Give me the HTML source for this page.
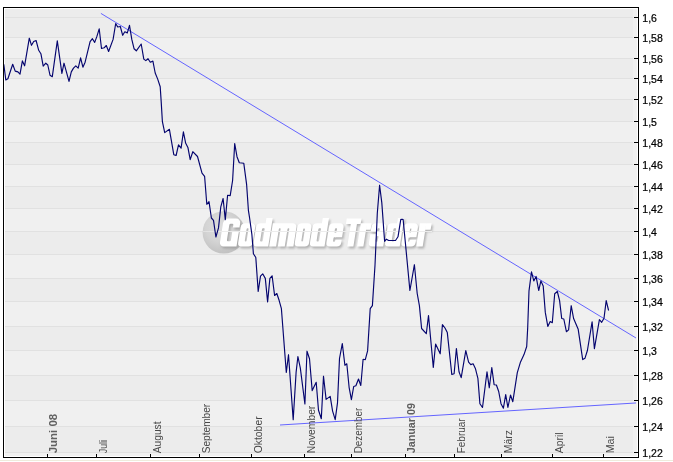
<!DOCTYPE html>
<html><head><meta charset="utf-8"><title>Chart</title>
<style>
html,body{margin:0;padding:0;background:#fff;}
body{width:673px;height:462px;overflow:hidden;position:relative;font-family:"Liberation Sans",sans-serif;}
svg{position:absolute;left:0;top:0;}
text{font-family:"Liberation Sans",sans-serif;}
</style></head><body>
<svg width="673" height="462" viewBox="0 0 673 462">
<defs>
<radialGradient id="ball" cx="0.42" cy="0.38" r="0.62"><stop offset="0" stop-color="#dedede"/><stop offset="0.55" stop-color="#d4d4d4"/><stop offset="1" stop-color="#c2c2c2"/></radialGradient>
<filter id="sh" x="-5%" y="-20%" width="110%" height="150%"><feGaussianBlur stdDeviation="1.1"/></filter>
<clipPath id="plot"><rect x="4" y="9" width="632" height="447"/></clipPath>
</defs>
<rect x="0" y="460" width="673" height="1" fill="#efebdc"/>
<rect x="3" y="7" width="636" height="451" fill="#000"/>
<rect x="4" y="8" width="634" height="449" fill="#fff"/>
<rect x="5" y="9" width="632" height="447" fill="#f0f0f0"/>
<rect x="5" y="9" width="628" height="8" fill="#ececec"/>
<rect x="5" y="18" width="628" height="19" fill="#ececec"/>
<rect x="5" y="59" width="628" height="19" fill="#ececec"/>
<rect x="5" y="100" width="628" height="21" fill="#ececec"/>
<rect x="5" y="143" width="628" height="21" fill="#ececec"/>
<rect x="5" y="187" width="628" height="21" fill="#ececec"/>
<rect x="5" y="232" width="628" height="22" fill="#ececec"/>
<rect x="5" y="279" width="628" height="22" fill="#ececec"/>
<rect x="5" y="327" width="628" height="23" fill="#ececec"/>
<rect x="5" y="376" width="628" height="24" fill="#ececec"/>
<rect x="5" y="427" width="628" height="25" fill="#ececec"/>
<rect x="5" y="17" width="628" height="1" fill="#e1e1e1"/>
<rect x="5" y="37" width="628" height="1" fill="#e1e1e1"/>
<rect x="5" y="58" width="628" height="1" fill="#e1e1e1"/>
<rect x="5" y="78" width="628" height="1" fill="#e1e1e1"/>
<rect x="5" y="99" width="628" height="1" fill="#e1e1e1"/>
<rect x="5" y="121" width="628" height="1" fill="#e1e1e1"/>
<rect x="5" y="142" width="628" height="1" fill="#e1e1e1"/>
<rect x="5" y="164" width="628" height="1" fill="#e1e1e1"/>
<rect x="5" y="186" width="628" height="1" fill="#e1e1e1"/>
<rect x="5" y="208" width="628" height="1" fill="#e1e1e1"/>
<rect x="5" y="231" width="628" height="1" fill="#e1e1e1"/>
<rect x="5" y="254" width="628" height="1" fill="#e1e1e1"/>
<rect x="5" y="278" width="628" height="1" fill="#e1e1e1"/>
<rect x="5" y="301" width="628" height="1" fill="#e1e1e1"/>
<rect x="5" y="326" width="628" height="1" fill="#e1e1e1"/>
<rect x="5" y="350" width="628" height="1" fill="#e1e1e1"/>
<rect x="5" y="375" width="628" height="1" fill="#e1e1e1"/>
<rect x="5" y="400" width="628" height="1" fill="#e1e1e1"/>
<rect x="5" y="426" width="628" height="1" fill="#e1e1e1"/>
<rect x="5" y="452" width="628" height="1" fill="#e1e1e1"/>
<g id="wm">
<circle cx="223.8" cy="232.4" r="21.2" fill="url(#ball)"/>
<rect x="203" y="231" width="42" height="1" fill="#ffffff" opacity="0.35"/>
<g fill="#8c8c8c" fill-rule="evenodd" opacity="0.62" filter="url(#sh)" transform="translate(1.4,2.0)"><path transform="translate(219.3,246.5) skewX(-9.0)" d="M4.80,-28.00 L12.40,-28.00 A4.8,4.8 0 0 1 17.20,-23.20 L17.20,0.00 L4.20,0.00 A4.2,4.2 0 0 1 0.00,-4.20 L0.00,-23.20 A4.8,4.8 0 0 1 4.80,-28.00 Z M7.80,-22.70 L9.40,-22.70 A1.2,1.2 0 0 1 10.60,-21.50 L10.60,-6.50 A1.2,1.2 0 0 1 9.40,-5.30 L7.80,-5.30 A1.2,1.2 0 0 1 6.60,-6.50 L6.60,-21.50 A1.2,1.2 0 0 1 7.80,-22.70 Z M10.60,-19.00 L17.20,-19.00 L17.20,-15.40 L10.60,-15.40 L10.60,-19.00 Z"/><path transform="translate(237.6,246.5) skewX(-9.0)" d="M4.20,-23.30 L10.30,-23.30 A4.2,4.2 0 0 1 14.50,-19.10 L14.50,-3.80 A3.8,3.8 0 0 1 10.70,0.00 L3.80,0.00 A3.8,3.8 0 0 1 0.00,-3.80 L0.00,-19.10 A4.2,4.2 0 0 1 4.20,-23.30 Z M7.20,-18.30 L7.30,-18.30 A0.9,0.9 0 0 1 8.20,-17.40 L8.20,-5.90 A0.9,0.9 0 0 1 7.30,-5.00 L7.20,-5.00 A0.9,0.9 0 0 1 6.30,-5.90 L6.30,-17.40 A0.9,0.9 0 0 1 7.20,-18.30 Z"/><path transform="translate(253.0,246.5) skewX(-9.0)" d="M4.20,-23.30 L15.20,-23.30 L15.20,0.00 L3.80,0.00 A3.8,3.8 0 0 1 0.00,-3.80 L0.00,-19.10 A4.2,4.2 0 0 1 4.20,-23.30 Z M7.20,-18.30 L8.00,-18.30 A0.9,0.9 0 0 1 8.90,-17.40 L8.90,-5.90 A0.9,0.9 0 0 1 8.00,-5.00 L7.20,-5.00 A0.9,0.9 0 0 1 6.30,-5.90 L6.30,-17.40 A0.9,0.9 0 0 1 7.20,-18.30 Z M8.90,-28.60 L15.20,-28.60 L15.20,-23.29 L8.90,-23.29 L8.90,-28.60 Z"/><path transform="translate(269.2,246.5) skewX(-9.0)" d="M0.00,-23.30 L20.00,-23.30 A4.2,4.2 0 0 1 24.20,-19.10 L24.20,0.00 L0.00,0.00 L0.00,-23.30 Z M7.70,-18.30 L7.85,-18.30 A0.8,0.8 0 0 1 8.65,-17.50 L8.65,0.00 L6.90,0.00 L6.90,-17.50 A0.8,0.8 0 0 1 7.70,-18.30 Z M16.35,-18.30 L16.50,-18.30 A0.8,0.8 0 0 1 17.30,-17.50 L17.30,0.00 L15.55,0.00 L15.55,-17.50 A0.8,0.8 0 0 1 16.35,-18.30 Z"/><path transform="translate(294.2,246.5) skewX(-9.0)" d="M4.20,-23.30 L10.10,-23.30 A4.2,4.2 0 0 1 14.30,-19.10 L14.30,-3.80 A3.8,3.8 0 0 1 10.50,0.00 L3.80,0.00 A3.8,3.8 0 0 1 0.00,-3.80 L0.00,-19.10 A4.2,4.2 0 0 1 4.20,-23.30 Z M7.20,-18.30 L7.10,-18.30 A0.9,0.9 0 0 1 8.00,-17.40 L8.00,-5.90 A0.9,0.9 0 0 1 7.10,-5.00 L7.20,-5.00 A0.9,0.9 0 0 1 6.30,-5.90 L6.30,-17.40 A0.9,0.9 0 0 1 7.20,-18.30 Z"/><path transform="translate(309.4,246.5) skewX(-9.0)" d="M4.20,-23.30 L15.10,-23.30 L15.10,0.00 L3.80,0.00 A3.8,3.8 0 0 1 0.00,-3.80 L0.00,-19.10 A4.2,4.2 0 0 1 4.20,-23.30 Z M7.20,-18.30 L7.90,-18.30 A0.9,0.9 0 0 1 8.80,-17.40 L8.80,-5.90 A0.9,0.9 0 0 1 7.90,-5.00 L7.20,-5.00 A0.9,0.9 0 0 1 6.30,-5.90 L6.30,-17.40 A0.9,0.9 0 0 1 7.20,-18.30 Z M8.80,-28.60 L15.10,-28.60 L15.10,-23.29 L8.80,-23.29 L8.80,-28.60 Z"/><path transform="translate(325.9,246.5) skewX(-9.0)" d="M4.20,-23.30 L10.50,-23.30 A4.2,4.2 0 0 1 14.70,-19.10 L14.70,-3.80 A3.8,3.8 0 0 1 10.90,0.00 L3.80,0.00 A3.8,3.8 0 0 1 0.00,-3.80 L0.00,-19.10 A4.2,4.2 0 0 1 4.20,-23.30 Z M7.10,-18.30 L7.60,-18.30 A0.8,0.8 0 0 1 8.40,-17.50 L8.40,-14.50 A0.8,0.8 0 0 1 7.60,-13.70 L7.10,-13.70 A0.8,0.8 0 0 1 6.30,-14.50 L6.30,-17.50 A0.8,0.8 0 0 1 7.10,-18.30 Z M7.10,-9.20 L7.60,-9.20 A0.8,0.8 0 0 1 8.40,-8.40 L8.40,-5.60 A0.8,0.8 0 0 1 7.60,-4.80 L7.10,-4.80 A0.8,0.8 0 0 1 6.30,-5.60 L6.30,-8.40 A0.8,0.8 0 0 1 7.10,-9.20 Z M8.40,-9.20 L14.70,-9.20 L14.70,-6.80 L8.40,-6.80 L8.40,-9.20 Z"/><path transform="translate(342.3,246.5) skewX(-9.0)" d="M0.00,-28.00 L14.80,-28.00 L14.80,-22.40 L0.00,-22.40 L0.00,-28.00 Z M4.90,-22.41 L11.10,-22.41 L11.10,0.00 L4.90,0.00 L4.90,-22.41 Z"/><path transform="translate(357.1,246.5) skewX(-9.0)" d="M0.00,-23.30 L6.30,-23.30 L6.30,0.00 L0.00,0.00 L0.00,-23.30 Z M6.29,-23.30 L10.89,-23.30 L10.89,-16.70 L6.29,-16.70 L6.29,-23.30 Z"/><path transform="translate(368.3,246.5) skewX(-9.0)" d="M4.20,-23.30 L10.70,-23.30 A4.2,4.2 0 0 1 14.90,-19.10 L14.90,0.00 L3.80,0.00 A3.8,3.8 0 0 1 0.00,-3.80 L0.00,-19.10 A4.2,4.2 0 0 1 4.20,-23.30 Z M7.10,-18.30 L7.80,-18.30 A0.8,0.8 0 0 1 8.60,-17.50 L8.60,-15.50 A0.8,0.8 0 0 1 7.80,-14.70 L7.10,-14.70 A0.8,0.8 0 0 1 6.30,-15.50 L6.30,-17.50 A0.8,0.8 0 0 1 7.10,-18.30 Z M7.10,-10.60 L7.80,-10.60 A0.8,0.8 0 0 1 8.60,-9.80 L8.60,-5.60 A0.8,0.8 0 0 1 7.80,-4.80 L7.10,-4.80 A0.8,0.8 0 0 1 6.30,-5.60 L6.30,-9.80 A0.8,0.8 0 0 1 7.10,-10.60 Z M0.00,-14.40 L6.30,-14.40 L6.30,-12.20 L0.00,-12.20 L0.00,-14.40 Z"/><path transform="translate(384.5,246.5) skewX(-9.0)" d="M4.20,-23.30 L15.20,-23.30 L15.20,0.00 L3.80,0.00 A3.8,3.8 0 0 1 0.00,-3.80 L0.00,-19.10 A4.2,4.2 0 0 1 4.20,-23.30 Z M7.20,-18.30 L8.00,-18.30 A0.9,0.9 0 0 1 8.90,-17.40 L8.90,-5.90 A0.9,0.9 0 0 1 8.00,-5.00 L7.20,-5.00 A0.9,0.9 0 0 1 6.30,-5.90 L6.30,-17.40 A0.9,0.9 0 0 1 7.20,-18.30 Z M8.90,-28.60 L15.20,-28.60 L15.20,-23.29 L8.90,-23.29 L8.90,-28.60 Z"/><path transform="translate(401.0,246.5) skewX(-9.0)" d="M4.20,-23.30 L9.70,-23.30 A4.2,4.2 0 0 1 13.90,-19.10 L13.90,-3.80 A3.8,3.8 0 0 1 10.10,0.00 L3.80,0.00 A3.8,3.8 0 0 1 0.00,-3.80 L0.00,-19.10 A4.2,4.2 0 0 1 4.20,-23.30 Z M7.10,-18.30 L6.80,-18.30 A0.8,0.8 0 0 1 7.60,-17.50 L7.60,-14.50 A0.8,0.8 0 0 1 6.80,-13.70 L7.10,-13.70 A0.8,0.8 0 0 1 6.30,-14.50 L6.30,-17.50 A0.8,0.8 0 0 1 7.10,-18.30 Z M7.10,-9.20 L6.80,-9.20 A0.8,0.8 0 0 1 7.60,-8.40 L7.60,-5.60 A0.8,0.8 0 0 1 6.80,-4.80 L7.10,-4.80 A0.8,0.8 0 0 1 6.30,-5.60 L6.30,-8.40 A0.8,0.8 0 0 1 7.10,-9.20 Z M7.60,-9.20 L13.90,-9.20 L13.90,-6.80 L7.60,-6.80 L7.60,-9.20 Z"/><path transform="translate(416.2,246.5) skewX(-9.0)" d="M0.00,-23.30 L6.50,-23.30 L6.50,0.00 L0.00,0.00 L0.00,-23.30 Z M6.49,-23.30 L11.79,-23.30 L11.79,-16.70 L6.49,-16.70 L6.49,-23.30 Z"/></g>
<g fill="#ffffff" fill-rule="evenodd"><path transform="translate(219.3,246.5) skewX(-9.0)" d="M4.80,-28.00 L12.40,-28.00 A4.8,4.8 0 0 1 17.20,-23.20 L17.20,0.00 L4.20,0.00 A4.2,4.2 0 0 1 0.00,-4.20 L0.00,-23.20 A4.8,4.8 0 0 1 4.80,-28.00 Z M7.80,-22.70 L9.40,-22.70 A1.2,1.2 0 0 1 10.60,-21.50 L10.60,-6.50 A1.2,1.2 0 0 1 9.40,-5.30 L7.80,-5.30 A1.2,1.2 0 0 1 6.60,-6.50 L6.60,-21.50 A1.2,1.2 0 0 1 7.80,-22.70 Z M10.60,-19.00 L17.20,-19.00 L17.20,-15.40 L10.60,-15.40 L10.60,-19.00 Z"/><path transform="translate(237.6,246.5) skewX(-9.0)" d="M4.20,-23.30 L10.30,-23.30 A4.2,4.2 0 0 1 14.50,-19.10 L14.50,-3.80 A3.8,3.8 0 0 1 10.70,0.00 L3.80,0.00 A3.8,3.8 0 0 1 0.00,-3.80 L0.00,-19.10 A4.2,4.2 0 0 1 4.20,-23.30 Z M7.20,-18.30 L7.30,-18.30 A0.9,0.9 0 0 1 8.20,-17.40 L8.20,-5.90 A0.9,0.9 0 0 1 7.30,-5.00 L7.20,-5.00 A0.9,0.9 0 0 1 6.30,-5.90 L6.30,-17.40 A0.9,0.9 0 0 1 7.20,-18.30 Z"/><path transform="translate(253.0,246.5) skewX(-9.0)" d="M4.20,-23.30 L15.20,-23.30 L15.20,0.00 L3.80,0.00 A3.8,3.8 0 0 1 0.00,-3.80 L0.00,-19.10 A4.2,4.2 0 0 1 4.20,-23.30 Z M7.20,-18.30 L8.00,-18.30 A0.9,0.9 0 0 1 8.90,-17.40 L8.90,-5.90 A0.9,0.9 0 0 1 8.00,-5.00 L7.20,-5.00 A0.9,0.9 0 0 1 6.30,-5.90 L6.30,-17.40 A0.9,0.9 0 0 1 7.20,-18.30 Z M8.90,-28.60 L15.20,-28.60 L15.20,-23.29 L8.90,-23.29 L8.90,-28.60 Z"/><path transform="translate(269.2,246.5) skewX(-9.0)" d="M0.00,-23.30 L20.00,-23.30 A4.2,4.2 0 0 1 24.20,-19.10 L24.20,0.00 L0.00,0.00 L0.00,-23.30 Z M7.70,-18.30 L7.85,-18.30 A0.8,0.8 0 0 1 8.65,-17.50 L8.65,0.00 L6.90,0.00 L6.90,-17.50 A0.8,0.8 0 0 1 7.70,-18.30 Z M16.35,-18.30 L16.50,-18.30 A0.8,0.8 0 0 1 17.30,-17.50 L17.30,0.00 L15.55,0.00 L15.55,-17.50 A0.8,0.8 0 0 1 16.35,-18.30 Z"/><path transform="translate(294.2,246.5) skewX(-9.0)" d="M4.20,-23.30 L10.10,-23.30 A4.2,4.2 0 0 1 14.30,-19.10 L14.30,-3.80 A3.8,3.8 0 0 1 10.50,0.00 L3.80,0.00 A3.8,3.8 0 0 1 0.00,-3.80 L0.00,-19.10 A4.2,4.2 0 0 1 4.20,-23.30 Z M7.20,-18.30 L7.10,-18.30 A0.9,0.9 0 0 1 8.00,-17.40 L8.00,-5.90 A0.9,0.9 0 0 1 7.10,-5.00 L7.20,-5.00 A0.9,0.9 0 0 1 6.30,-5.90 L6.30,-17.40 A0.9,0.9 0 0 1 7.20,-18.30 Z"/><path transform="translate(309.4,246.5) skewX(-9.0)" d="M4.20,-23.30 L15.10,-23.30 L15.10,0.00 L3.80,0.00 A3.8,3.8 0 0 1 0.00,-3.80 L0.00,-19.10 A4.2,4.2 0 0 1 4.20,-23.30 Z M7.20,-18.30 L7.90,-18.30 A0.9,0.9 0 0 1 8.80,-17.40 L8.80,-5.90 A0.9,0.9 0 0 1 7.90,-5.00 L7.20,-5.00 A0.9,0.9 0 0 1 6.30,-5.90 L6.30,-17.40 A0.9,0.9 0 0 1 7.20,-18.30 Z M8.80,-28.60 L15.10,-28.60 L15.10,-23.29 L8.80,-23.29 L8.80,-28.60 Z"/><path transform="translate(325.9,246.5) skewX(-9.0)" d="M4.20,-23.30 L10.50,-23.30 A4.2,4.2 0 0 1 14.70,-19.10 L14.70,-3.80 A3.8,3.8 0 0 1 10.90,0.00 L3.80,0.00 A3.8,3.8 0 0 1 0.00,-3.80 L0.00,-19.10 A4.2,4.2 0 0 1 4.20,-23.30 Z M7.10,-18.30 L7.60,-18.30 A0.8,0.8 0 0 1 8.40,-17.50 L8.40,-14.50 A0.8,0.8 0 0 1 7.60,-13.70 L7.10,-13.70 A0.8,0.8 0 0 1 6.30,-14.50 L6.30,-17.50 A0.8,0.8 0 0 1 7.10,-18.30 Z M7.10,-9.20 L7.60,-9.20 A0.8,0.8 0 0 1 8.40,-8.40 L8.40,-5.60 A0.8,0.8 0 0 1 7.60,-4.80 L7.10,-4.80 A0.8,0.8 0 0 1 6.30,-5.60 L6.30,-8.40 A0.8,0.8 0 0 1 7.10,-9.20 Z M8.40,-9.20 L14.70,-9.20 L14.70,-6.80 L8.40,-6.80 L8.40,-9.20 Z"/><path transform="translate(342.3,246.5) skewX(-9.0)" d="M0.00,-28.00 L14.80,-28.00 L14.80,-22.40 L0.00,-22.40 L0.00,-28.00 Z M4.90,-22.41 L11.10,-22.41 L11.10,0.00 L4.90,0.00 L4.90,-22.41 Z"/><path transform="translate(357.1,246.5) skewX(-9.0)" d="M0.00,-23.30 L6.30,-23.30 L6.30,0.00 L0.00,0.00 L0.00,-23.30 Z M6.29,-23.30 L10.89,-23.30 L10.89,-16.70 L6.29,-16.70 L6.29,-23.30 Z"/><path transform="translate(368.3,246.5) skewX(-9.0)" d="M4.20,-23.30 L10.70,-23.30 A4.2,4.2 0 0 1 14.90,-19.10 L14.90,0.00 L3.80,0.00 A3.8,3.8 0 0 1 0.00,-3.80 L0.00,-19.10 A4.2,4.2 0 0 1 4.20,-23.30 Z M7.10,-18.30 L7.80,-18.30 A0.8,0.8 0 0 1 8.60,-17.50 L8.60,-15.50 A0.8,0.8 0 0 1 7.80,-14.70 L7.10,-14.70 A0.8,0.8 0 0 1 6.30,-15.50 L6.30,-17.50 A0.8,0.8 0 0 1 7.10,-18.30 Z M7.10,-10.60 L7.80,-10.60 A0.8,0.8 0 0 1 8.60,-9.80 L8.60,-5.60 A0.8,0.8 0 0 1 7.80,-4.80 L7.10,-4.80 A0.8,0.8 0 0 1 6.30,-5.60 L6.30,-9.80 A0.8,0.8 0 0 1 7.10,-10.60 Z M0.00,-14.40 L6.30,-14.40 L6.30,-12.20 L0.00,-12.20 L0.00,-14.40 Z"/><path transform="translate(384.5,246.5) skewX(-9.0)" d="M4.20,-23.30 L15.20,-23.30 L15.20,0.00 L3.80,0.00 A3.8,3.8 0 0 1 0.00,-3.80 L0.00,-19.10 A4.2,4.2 0 0 1 4.20,-23.30 Z M7.20,-18.30 L8.00,-18.30 A0.9,0.9 0 0 1 8.90,-17.40 L8.90,-5.90 A0.9,0.9 0 0 1 8.00,-5.00 L7.20,-5.00 A0.9,0.9 0 0 1 6.30,-5.90 L6.30,-17.40 A0.9,0.9 0 0 1 7.20,-18.30 Z M8.90,-28.60 L15.20,-28.60 L15.20,-23.29 L8.90,-23.29 L8.90,-28.60 Z"/><path transform="translate(401.0,246.5) skewX(-9.0)" d="M4.20,-23.30 L9.70,-23.30 A4.2,4.2 0 0 1 13.90,-19.10 L13.90,-3.80 A3.8,3.8 0 0 1 10.10,0.00 L3.80,0.00 A3.8,3.8 0 0 1 0.00,-3.80 L0.00,-19.10 A4.2,4.2 0 0 1 4.20,-23.30 Z M7.10,-18.30 L6.80,-18.30 A0.8,0.8 0 0 1 7.60,-17.50 L7.60,-14.50 A0.8,0.8 0 0 1 6.80,-13.70 L7.10,-13.70 A0.8,0.8 0 0 1 6.30,-14.50 L6.30,-17.50 A0.8,0.8 0 0 1 7.10,-18.30 Z M7.10,-9.20 L6.80,-9.20 A0.8,0.8 0 0 1 7.60,-8.40 L7.60,-5.60 A0.8,0.8 0 0 1 6.80,-4.80 L7.10,-4.80 A0.8,0.8 0 0 1 6.30,-5.60 L6.30,-8.40 A0.8,0.8 0 0 1 7.10,-9.20 Z M7.60,-9.20 L13.90,-9.20 L13.90,-6.80 L7.60,-6.80 L7.60,-9.20 Z"/><path transform="translate(416.2,246.5) skewX(-9.0)" d="M0.00,-23.30 L6.50,-23.30 L6.50,0.00 L0.00,0.00 L0.00,-23.30 Z M6.49,-23.30 L11.79,-23.30 L11.79,-16.70 L6.49,-16.70 L6.49,-23.30 Z"/></g>
<rect x="219" y="231" width="213" height="1" fill="#ececec"/>
</g>
<g clip-path="url(#plot)">
<line x1="100.9" y1="13.4" x2="637" y2="338.6" stroke="#6464ff" stroke-width="1"/>
<line x1="280" y1="425.0" x2="637" y2="402.9" stroke="#6464ff" stroke-width="1"/>
<polyline points="3.8,64.3 5.8,79.9 7.9,78.7 12.7,64.3 15.2,71.1 17.9,71.9 20.0,74.1 22.4,60.9 24.6,65.8 29.3,38.2 31.5,45.3 33.7,41.5 36.1,40.5 38.7,50.3 40.9,53.7 43.2,66.2 45.8,63.2 47.8,65.0 50.0,75.2 52.3,76.7 57.3,40.8 61.9,73.4 64.0,63.2 69.0,81.4 71.3,71.9 73.5,68.1 75.8,65.8 78.2,68.1 80.6,57.8 82.9,67.2 85.1,62.2 90.1,41.7 92.4,38.7 94.7,42.4 96.9,36.4 99.2,28.8 101.5,48.5 104.1,47.8 106.3,45.5 108.6,51.5 113.1,39.4 115.7,23.5 117.7,27.0 120.3,26.5 122.7,35.3 124.8,31.8 127.3,32.9 129.5,25.3 131.8,39.4 134.1,48.8 136.3,50.8 141.2,44.0 143.8,59.1 145.8,60.6 148.0,58.7 150.3,62.2 152.9,61.1 155.2,73.0 157.7,79.1 160.2,86.7 161.2,101.9 162.4,121.7 164.7,132.6 169.4,129.3 173.8,154.7 176.1,155.5 178.5,144.9 181.1,148.2 183.4,131.8 185.6,142.9 187.9,147.4 190.2,159.6 192.8,151.7 197.5,156.5 202.0,173.2 204.6,176.3 206.8,204.3 209.0,201.7 211.4,218.0 213.5,220.3 215.9,237.0 218.5,227.9 220.8,206.8 223.1,198.5 225.3,219.6 227.6,195.3 230.2,195.6 232.6,180.5 234.7,143.6 237.0,156.7 239.3,162.7 243.8,163.3 246.6,184.3 248.4,210.3 249.6,218.0 251.9,234.7 253.4,253.7 255.8,257.5 258.2,291.5 260.5,276.1 262.7,273.8 265.3,278.4 267.6,301.9 269.9,278.4 272.1,275.8 274.6,295.5 276.8,293.5 279.1,300.3 281.4,308.7 286.3,372.5 288.5,354.7 293.2,419.7 296.1,372.4 297.9,356.5 300.3,367.9 304.9,404.0 307.0,351.2 309.5,358.8 312.2,390.6 316.2,382.3 318.5,410.3 321.3,418.7 323.5,376.2 326.1,399.4 330.2,396.4 332.6,411.1 335.2,419.7 337.5,402.8 339.5,358.5 342.3,343.6 344.9,365.3 346.8,363.8 349.1,387.3 351.4,399.7 353.7,386.5 355.9,385.8 358.5,379.0 360.8,385.5 363.1,359.3 365.3,359.7 367.6,350.9 370.2,308.7 372.4,305.6 375.0,265.3 377.3,213.2 379.6,185.2 381.8,202.6 384.6,241.3 386.4,239.2 388.7,240.5 395.5,240.5 398.0,236.8 400.8,219.3 403.1,219.3 405.3,242.0 409.9,290.5 414.4,264.7 417.2,293.5 419.4,305.6 421.6,328.5 426.3,333.7 428.5,315.5 433.3,367.5 435.6,344.0 440.2,353.8 442.4,324.7 445.0,328.0 447.3,332.6 451.8,374.5 454.1,373.7 456.4,348.5 459.0,371.8 461.2,377.6 465.8,350.6 468.6,362.1 470.8,364.6 473.1,363.8 475.5,368.8 477.9,378.4 479.9,403.7 482.5,407.5 487.0,371.8 489.3,387.8 491.8,367.5 494.1,384.7 496.4,385.0 498.7,391.5 501.0,403.7 503.4,408.2 505.7,394.6 507.9,407.5 510.5,395.0 512.8,401.7 517.3,372.6 520.3,362.6 524.0,354.6 526.7,346.5 527.7,327.6 529.0,290.8 531.5,271.8 533.8,280.9 536.1,276.4 538.7,290.5 540.9,280.9 543.2,285.9 545.3,312.4 547.8,326.4 550.2,321.5 552.3,322.7 554.7,293.8 557.3,291.5 559.6,300.6 561.7,318.5 563.8,319.0 566.4,331.7 568.6,329.9 571.2,305.7 573.6,318.5 578.2,329.3 582.7,359.6 585.0,358.2 587.4,350.5 592.1,321.8 594.4,348.7 599.4,319.6 601.7,322.3 604.0,318.3 606.2,300.6 608.6,310.5" fill="none" stroke="#04046e" stroke-width="1.15" stroke-linejoin="round"/>
</g>
<g opacity="0.999">
<rect x="634" y="17" width="4" height="1" fill="#000"/>
<text transform="translate(642.3,21.5) scale(0.955,1)" font-size="11" fill="#000" stroke="#000" stroke-width="0.25">1,6</text>
<rect x="634" y="37" width="4" height="1" fill="#000"/>
<text transform="translate(642.3,41.5) scale(0.955,1)" font-size="11" fill="#000" stroke="#000" stroke-width="0.25">1,58</text>
<rect x="634" y="58" width="4" height="1" fill="#000"/>
<text transform="translate(642.3,62.5) scale(0.955,1)" font-size="11" fill="#000" stroke="#000" stroke-width="0.25">1,56</text>
<rect x="634" y="78" width="4" height="1" fill="#000"/>
<text transform="translate(642.3,82.5) scale(0.955,1)" font-size="11" fill="#000" stroke="#000" stroke-width="0.25">1,54</text>
<rect x="634" y="99" width="4" height="1" fill="#000"/>
<text transform="translate(642.3,103.5) scale(0.955,1)" font-size="11" fill="#000" stroke="#000" stroke-width="0.25">1,52</text>
<rect x="634" y="121" width="4" height="1" fill="#000"/>
<text transform="translate(642.3,125.5) scale(0.955,1)" font-size="11" fill="#000" stroke="#000" stroke-width="0.25">1,5</text>
<rect x="634" y="142" width="4" height="1" fill="#000"/>
<text transform="translate(642.3,146.5) scale(0.955,1)" font-size="11" fill="#000" stroke="#000" stroke-width="0.25">1,48</text>
<rect x="634" y="164" width="4" height="1" fill="#000"/>
<text transform="translate(642.3,168.5) scale(0.955,1)" font-size="11" fill="#000" stroke="#000" stroke-width="0.25">1,46</text>
<rect x="634" y="186" width="4" height="1" fill="#000"/>
<text transform="translate(642.3,190.5) scale(0.955,1)" font-size="11" fill="#000" stroke="#000" stroke-width="0.25">1,44</text>
<rect x="634" y="208" width="4" height="1" fill="#000"/>
<text transform="translate(642.3,212.5) scale(0.955,1)" font-size="11" fill="#000" stroke="#000" stroke-width="0.25">1,42</text>
<rect x="634" y="231" width="4" height="1" fill="#000"/>
<text transform="translate(642.3,235.5) scale(0.955,1)" font-size="11" fill="#000" stroke="#000" stroke-width="0.25">1,4</text>
<rect x="634" y="254" width="4" height="1" fill="#000"/>
<text transform="translate(642.3,258.5) scale(0.955,1)" font-size="11" fill="#000" stroke="#000" stroke-width="0.25">1,38</text>
<rect x="634" y="278" width="4" height="1" fill="#000"/>
<text transform="translate(642.3,282.5) scale(0.955,1)" font-size="11" fill="#000" stroke="#000" stroke-width="0.25">1,36</text>
<rect x="634" y="301" width="4" height="1" fill="#000"/>
<text transform="translate(642.3,305.5) scale(0.955,1)" font-size="11" fill="#000" stroke="#000" stroke-width="0.25">1,34</text>
<rect x="634" y="326" width="4" height="1" fill="#000"/>
<text transform="translate(642.3,330.5) scale(0.955,1)" font-size="11" fill="#000" stroke="#000" stroke-width="0.25">1,32</text>
<rect x="634" y="350" width="4" height="1" fill="#000"/>
<text transform="translate(642.3,354.5) scale(0.955,1)" font-size="11" fill="#000" stroke="#000" stroke-width="0.25">1,3</text>
<rect x="634" y="375" width="4" height="1" fill="#000"/>
<text transform="translate(642.3,379.5) scale(0.955,1)" font-size="11" fill="#000" stroke="#000" stroke-width="0.25">1,28</text>
<rect x="634" y="400" width="4" height="1" fill="#000"/>
<text transform="translate(642.3,404.5) scale(0.955,1)" font-size="11" fill="#000" stroke="#000" stroke-width="0.25">1,26</text>
<rect x="634" y="426" width="4" height="1" fill="#000"/>
<text transform="translate(642.3,430.5) scale(0.955,1)" font-size="11" fill="#000" stroke="#000" stroke-width="0.25">1,24</text>
<rect x="634" y="452" width="4" height="1" fill="#000"/>
<text transform="translate(642.3,456.5) scale(0.955,1)" font-size="11" fill="#000" stroke="#000" stroke-width="0.25">1,22</text>
<rect x="47" y="454" width="1" height="3" fill="#000"/>
<text transform="translate(57,453.3) rotate(-90) scale(1.04,1)" font-size="11" font-weight="bold" fill="#606060">Juni 08</text>
<rect x="96" y="454" width="1" height="3" fill="#000"/>
<text transform="translate(107,453.3) rotate(-90) scale(0.81,1)" font-size="11" fill="#484848">Juli</text>
<rect x="150" y="454" width="1" height="3" fill="#000"/>
<text transform="translate(161,453.3) rotate(-90) scale(0.93,1)" font-size="11" fill="#484848">August</text>
<rect x="199" y="454" width="1" height="3" fill="#000"/>
<text transform="translate(210,453.3) rotate(-90) scale(0.921,1)" font-size="11" fill="#484848">September</text>
<rect x="251" y="454" width="1" height="3" fill="#000"/>
<text transform="translate(262,453.3) rotate(-90) scale(0.945,1)" font-size="11" fill="#484848">Oktober</text>
<rect x="304" y="454" width="1" height="3" fill="#000"/>
<text transform="translate(315,453.3) rotate(-90) scale(0.94,1)" font-size="11" fill="#484848">November</text>
<rect x="351" y="454" width="1" height="3" fill="#000"/>
<text transform="translate(362,453.3) rotate(-90) scale(0.9,1)" font-size="11" fill="#484848">Dezember</text>
<rect x="405" y="454" width="1" height="3" fill="#000"/>
<text transform="translate(415,453.3) rotate(-90) scale(0.98,1)" font-size="11" font-weight="bold" fill="#606060">Januar 09</text>
<rect x="454" y="454" width="1" height="3" fill="#000"/>
<text transform="translate(465,453.3) rotate(-90) scale(0.907,1)" font-size="11" fill="#484848">Februar</text>
<rect x="501" y="454" width="1" height="3" fill="#000"/>
<text transform="translate(512,453.3) rotate(-90) scale(0.95,1)" font-size="11" fill="#484848">März</text>
<rect x="552" y="454" width="1" height="3" fill="#000"/>
<text transform="translate(563,453.3) rotate(-90) scale(0.947,1)" font-size="11" fill="#484848">April</text>
<rect x="603" y="454" width="1" height="3" fill="#000"/>
<text transform="translate(614,453.3) rotate(-90) scale(0.97,1)" font-size="11" fill="#484848">Mai</text>
</g>
</svg>
</body></html>
